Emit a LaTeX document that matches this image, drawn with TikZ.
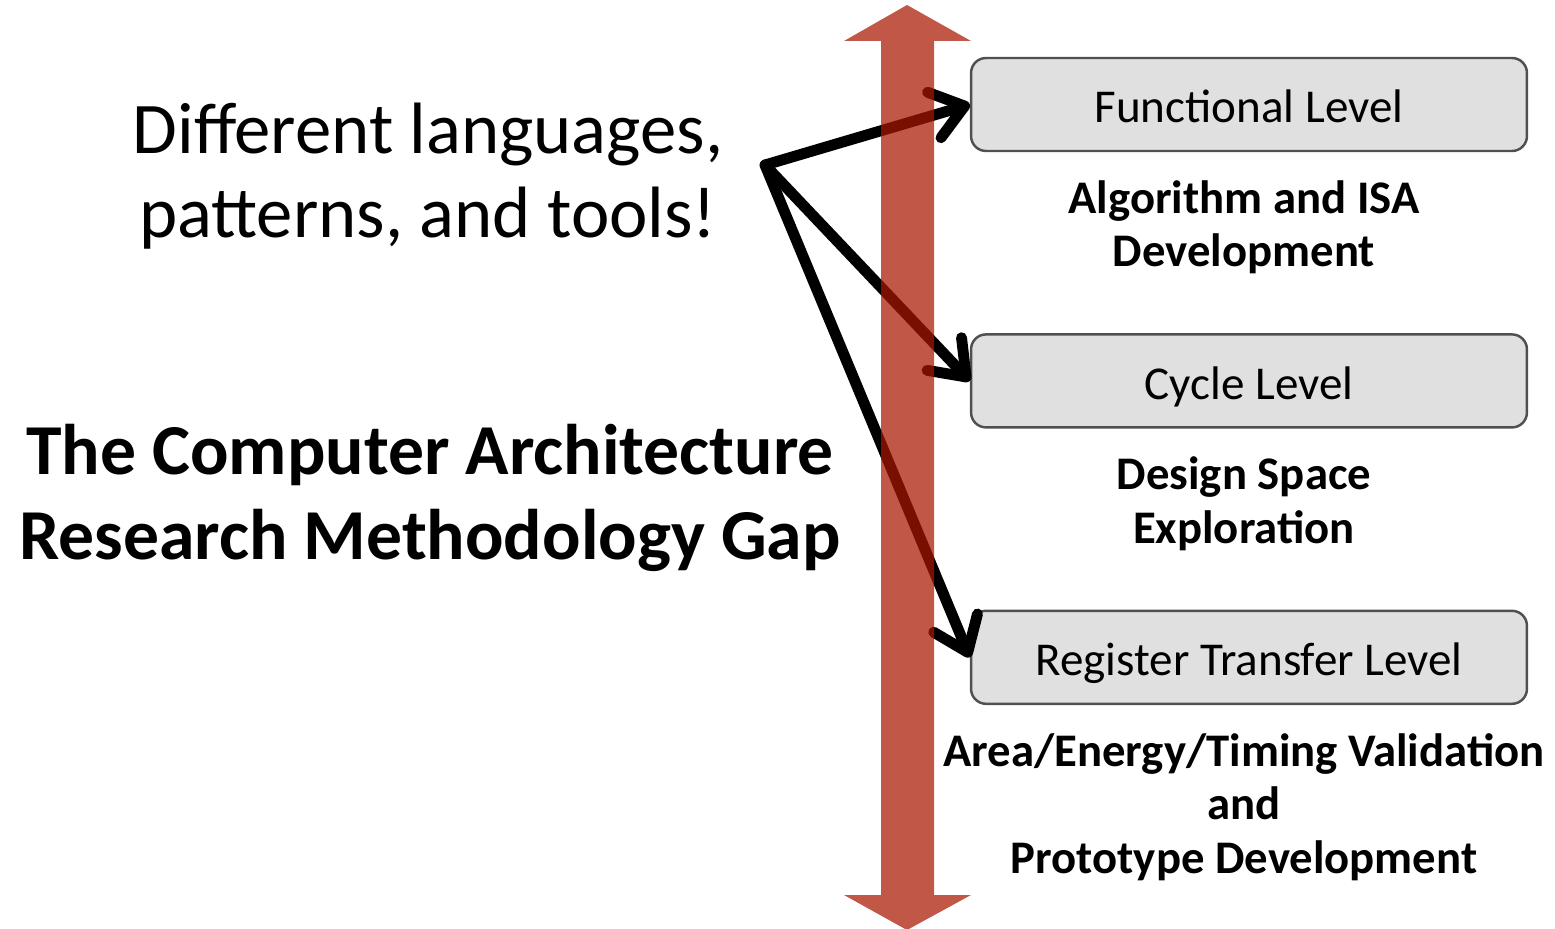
\documentclass[tikz,border=0pt]{standalone}
\usepackage{fontspec}
\setmainfont{Carlito}
\usetikzlibrary{positioning, arrows.meta}

\definecolor{gapred}{RGB}{168,22,0}
\definecolor{boxgray}{RGB}{224,224,224}
\definecolor{edgegray}{RGB}{80,80,80}

\tikzset{
  level/.style={draw=edgegray, fill=boxgray, line width=1.4pt,
    rounded corners=8.5pt, minimum width=11.12cm, minimum height=1.86cm,
    text height=23pt, text depth=2pt,
    font=\fontsize{26.8}{31}\selectfont},
  note/.style={align=center, font=\bfseries\fontsize{26.6}{30.6}\selectfont},
  pointer/.style={line width=6.2pt, line cap=round, line join=round,
    -{Straight Barb[length=18pt,width=27pt,line cap=round,line join=round]}}
}

\begin{document}
\begin{tikzpicture}[x=0.02cm, y=-0.02cm]
\useasboundingbox (0,0) rectangle (1555,929);

\node[level] (fl) at (1249,104.5) {Functional Level};
\node[level, below=3.62cm of fl] (cl) {Cycle Level};
\node[level, below=3.62cm of cl] (rtl) {Register Transfer Level};

\node[note, below=1.5cm of fl.south, anchor=center, xshift=-0.1cm] (alg)
    {Algorithm and ISA\\Development};
\node[note, below=1.5cm of cl.south, anchor=center, xshift=-0.1cm] (dse)
    {Design Space\\Exploration};
\node[note, below=2.04cm of rtl.south, anchor=center, xshift=-0.1cm] (proto)
    {Area/Energy/Timing Validation\\and\\Prototype Development};

\node[align=center, font=\fontsize{41.4}{47.5}\selectfont] (tools) at (428,176)
    {Different languages,\\patterns, and tools!};
\node[align=center, font=\bfseries\fontsize{40.8}{48}\selectfont] (gap) at (430,498)
    {The Computer Architecture\\Research Methodology Gap};

\coordinate (src) at (765,165);
\draw[pointer] (src) -- (fl.west);
\draw[pointer] (src) -- (cl.west);
\draw[pointer] (src) -- (rtl.west);

% the gap arrow
\fill[gapred, fill opacity=0.72] (907,5) -- (971,41) -- (934,41) -- (934,895)
    -- (971,895) -- (907,930) -- (844,895) -- (881,895) -- (881,41)
    -- (844,41) -- cycle;
\end{tikzpicture}
\end{document}
